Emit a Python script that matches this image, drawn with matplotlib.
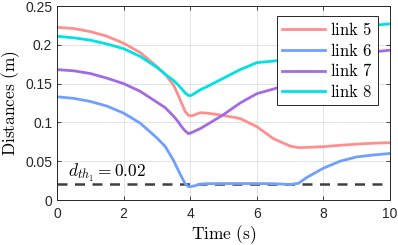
import numpy as np
import matplotlib
matplotlib.use('Agg')
import matplotlib.pyplot as plt
from matplotlib.ticker import FuncFormatter

plt.rcParams['mathtext.fontset'] = 'cm'
plt.rcParams['font.family'] = 'Liberation Sans'

time = [0, 0.5, 1, 1.5, 2, 2.5, 3, 3.25, 3.5, 3.6, 3.75, 3.85, 3.95, 4.05, 4.15,
        4.3, 4.5, 5, 5.5, 6, 6.5, 7, 7.25, 7.5, 8, 8.5, 9, 9.5, 10]
link5 = [0.2225, 0.221, 0.217, 0.211, 0.202, 0.190, 0.172, 0.162, 0.148, 0.139,
         0.124, 0.114, 0.109, 0.1085, 0.110, 0.1125, 0.112, 0.109, 0.105, 0.0945,
         0.079, 0.0695, 0.0675, 0.0678, 0.0687, 0.0705, 0.072, 0.0732, 0.0739]
link6 = [0.133, 0.131, 0.127, 0.121, 0.112, 0.099, 0.080, 0.069, 0.051, 0.042,
         0.029, 0.021, 0.0172, 0.0175, 0.0185, 0.0205, 0.021, 0.0212, 0.0212, 0.0212,
         0.021, 0.020, 0.0215, 0.029, 0.041, 0.050, 0.0555, 0.058, 0.060]
link7 = [0.168, 0.1665, 0.163, 0.157, 0.150, 0.140, 0.126, 0.119, 0.108, 0.103,
         0.094, 0.089, 0.0855, 0.087, 0.089, 0.092, 0.097, 0.110, 0.125, 0.137,
         0.143, 0.150, 0.155, 0.160, 0.170, 0.179, 0.186, 0.191, 0.193]
link8 = [0.211, 0.209, 0.206, 0.201, 0.195, 0.185, 0.171, 0.162, 0.154, 0.150,
         0.143, 0.138, 0.1345, 0.135, 0.138, 0.142, 0.146, 0.157, 0.168, 0.177,
         0.179, 0.182, 0.186, 0.190, 0.200, 0.210, 0.219, 0.225, 0.227]
labels = ['link 5', 'link 6', 'link 7', 'link 8']
colors = ['#FF8F8F', '#6F9FFF', '#A36BE3', '#00E2E2']
d_th = 0.02

fig = plt.figure(figsize=(3.98, 2.45), dpi=100)
ax = fig.add_axes([57/398, 1-200/245, 333/398, 194/245])

for y, lab, c in zip([link5, link6, link7, link8], labels, colors):
    ax.plot(time, y, '-', color=c, linewidth=2.0, label=r'$\mathrm{' + lab.replace(' ', r'\ ') + '}$')
ax.axhline(d_th, color='#404040', linestyle=(0, (4, 3)), linewidth=1.8, zorder=1)
ax.text(1.5, 0.0345, r'$d_{th_1} = 0.02$', fontsize=12.5, ha='center', va='center')

ax.set_xlim(0, 10)
ax.set_ylim(0, 0.25)
ax.set_xticks([0, 2, 4, 6, 8, 10])
ax.set_yticks([0, 0.05, 0.1, 0.15, 0.2, 0.25])
ax.yaxis.set_major_formatter(FuncFormatter(lambda v, p: '%g' % v))
ax.grid(True, color='#dedede', linewidth=0.6)
ax.set_axisbelow(True)
ax.tick_params(axis='both', direction='in', length=3, width=0.6, colors='#262626',
               labelsize=10, top=True, right=True)
ax.tick_params(axis='x', pad=5)
ax.tick_params(axis='y', pad=3.5)
for s in ax.spines.values():
    s.set_color('#262626')
    s.set_linewidth(0.7)

ax.set_xlabel(r'$\mathrm{Time\ (s)}$', fontsize=12.5, labelpad=2)
ax.set_ylabel(r'$\mathrm{Distances\ (m)}$', fontsize=12.5, labelpad=2)

legend = ax.legend(loc='upper right', bbox_to_anchor=((377.7-57)/333, (200-16)/194),
                   borderaxespad=0, fontsize=12, handlelength=2.6, handletextpad=0.3,
                   borderpad=0.3, labelspacing=0.22, fancybox=False, framealpha=1)
legend.get_frame().set_edgecolor('#262626')
legend.get_frame().set_linewidth(0.7)

plt.savefig('out.png', dpi=100)
